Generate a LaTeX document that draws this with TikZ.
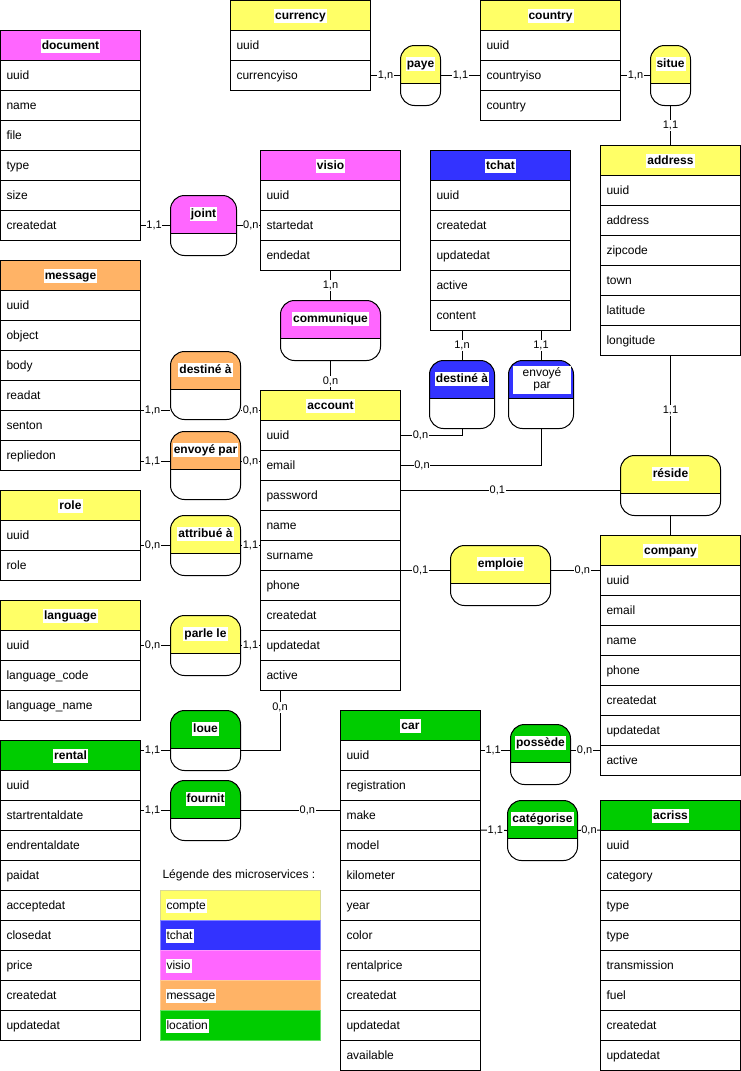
\documentclass[tikz,border=0pt]{standalone}
\usepackage{fontspec}
\setmainfont{Liberation Sans}
\definecolor{cyel}{HTML}{FFFF66}
\definecolor{cblue}{HTML}{3333FF}
\definecolor{cmag}{HTML}{FF66FF}
\definecolor{corange}{HTML}{FFB366}
\definecolor{cgreen}{HTML}{00CC00}
\newcommand\erfont{\fontsize{12pt}{14.4pt}\selectfont}
\newcommand\ercardfont{\fontsize{11pt}{13pt}\selectfont}
\tikzset{
  hdr/.style={draw, minimum width=140pt, minimum height=30pt, inner sep=0pt},
  hdrtxt/.style={fill=white, inner sep=1pt, font=\erfont\bfseries, text height=9.5pt, text depth=2.5pt},
  rowbox/.style={draw, fill=white, text width=128pt, align=left, inner xsep=6pt, inner ysep=0pt,
    minimum height=30pt, font=\erfont, text height=9.5pt, text depth=2.5pt},
  relbox/.style={draw, fill=white, rounded corners=14pt, inner sep=0pt},
  reltxt/.style={fill=white, inner sep=1pt, font=\erfont\bfseries, text height=9.5pt, text depth=2.5pt},
  card/.style={fill=white, inner sep=0.6pt, font=\ercardfont, text height=8pt, text depth=2pt},
  legbox/.style={minimum width=160pt, minimum height=30pt, inner sep=0pt},
  legtxt/.style={fill=white, inner sep=1pt, font=\erfont, text height=9.5pt, text depth=2.5pt},
}
\newcommand\ertab[6]{%
  \node[hdr, fill=#4, anchor=north west] (#1) at (#2,#3) {};
  \node[hdrtxt] (#1-t) at (#1.center) {#5};
  \foreach \rr [count=\ii] in {#6} {
    \node[rowbox, anchor=north west] (#1-\ii) at (#2,{#3+30*\ii}) {\rr};
  }%
}
\newcommand\erbox[6]{%
  \node[relbox, minimum width=#4pt, minimum height=#5pt, anchor=north west,
    path picture={\fill[#6, sharp corners] (path picture bounding box.north west) rectangle ([yshift=-38pt]path picture bounding box.north east);}]
    (#1) at (#2,#3) {};%
  \draw[sharp corners] ([yshift=-38pt]#1.north west) -- ([yshift=-38pt]#1.north east);%
}
\newcommand\errel[7]{%
  \erbox{#1}{#2}{#3}{#4}{#5}{#6}%
  \node[reltxt] (#1-t) at ([yshift=-19pt]#1.north) {#7};%
}
\begin{document}
\begin{tikzpicture}[x=1pt, y=-1pt, line width=1pt, font=\erfont]
\useasboundingbox (0,0) rectangle (741,1071);
\fill[white] (0,0) rectangle (741,1071);

% ---- tables
\ertab{document}{0}{30}{cmag}{document}{uuid,name,file,type,size,createdat}
\ertab{currency}{230}{0}{cyel}{currency}{uuid,currencyiso}
\ertab{country}{480}{0}{cyel}{country}{uuid,countryiso,country}
\ertab{visio}{260}{150}{cmag}{visio}{uuid,startedat,endedat}
\ertab{tchat}{430}{150}{cblue}{tchat}{uuid,createdat,updatedat,active,content}
\ertab{address}{600}{145}{cyel}{address}{uuid,address,zipcode,town,latitude,longitude}
\ertab{message}{0}{260}{corange}{message}{uuid,object,body,readat,senton,repliedon}
\ertab{account}{260}{390}{cyel}{account}{uuid,email,password,name,surname,phone,createdat,updatedat,active}
\ertab{role}{0}{490}{cyel}{role}{uuid,role}
\ertab{language}{0}{600}{cyel}{language}{uuid,language\_code,language\_name}
\ertab{company}{600}{535}{cyel}{company}{uuid,email,name,phone,createdat,updatedat,active}
\ertab{rental}{0}{740}{cgreen}{rental}{uuid,startrentaldate,endrentaldate,paidat,acceptedat,closedat,price,createdat,updatedat}
\ertab{car}{340}{710}{cgreen}{car}{uuid,registration,make,model,kilometer,year,color,rentalprice,createdat,updatedat,available}
\ertab{acriss}{600}{800}{cgreen}{acriss}{uuid,category,type,type,transmission,fuel,createdat,updatedat}

% ---- relationships
\errel{paye}{400}{45}{40}{60}{cyel}{paye}
\errel{situe}{650}{45}{40}{60}{cyel}{situe}
\errel{joint}{170}{195}{66}{60}{cmag}{joint}
\errel{communique}{280}{300}{100}{60}{cmag}{communique}
\errel{orangedest}{170}{351}{70}{68}{corange}{destiné à}
\errel{orangeenv}{170}{431}{70}{68}{corange}{envoyé par}
\errel{bluedest}{429}{360}{65}{68}{cblue}{destiné à}
\erbox{blueenv}{508}{360}{65}{68}{cblue}
\node[fill=white, inner sep=0pt, minimum width=58pt, minimum height=28pt, align=center,
  font=\erfont] (blueenv-t) at (542,379.5) {envoyé\\[-2.4pt]par};
\errel{reside}{620}{455}{100}{60}{cyel}{réside}
\errel{emploie}{450}{545}{100}{60}{cyel}{emploie}
\errel{attr}{170}{515}{70}{60}{cyel}{attribué à}
\errel{parle}{170}{615}{70}{60}{cyel}{parle le}
\errel{loue}{170}{710}{70}{60}{cgreen}{loue}
\errel{fournit}{170}{780}{70}{60}{cgreen}{fournit}
\errel{possede}{510}{724}{60}{60}{cgreen}{possède}
\errel{categ}{507}{800}{70}{60}{cgreen}{catégorise}

% ---- helper coordinates
\coordinate (m6) at ([yshift=-6pt]message-6.east);
\coordinate (pw) at ([yshift=5pt]account-3.east);
\coordinate (ac) at ([xshift=20pt]account-9.south west);
\coordinate (lo) at ([yshift=-10pt]loue.east);
\coordinate (po) at ([yshift=4pt]possede.west);

% ---- connectors
\draw (currency-2.east) -- node[card]{1,n} (paye.west);
\draw (paye.east) -- node[card]{1,1} (country-2.west);
\draw (country-2.east) -- node[card]{1,n} (situe.west);
\draw (situe.south) -- node[card]{1,1} (address.north);
\draw (document-6.east) -- node[card,pos=0.45]{1,1} (joint.west);
\draw (joint.east) -- node[card,pos=0.6]{0,n} (visio-2.west);
\draw (visio-3.south) -- node[card]{1,n} (communique.north);
\draw (communique.south) -- node[card,pos=0.7]{0,n} (account.north);
\draw (message-5.north east) -- node[card,pos=0.4]{1,n} (message-5.north east -| orangedest.west);
\draw (orangedest.east |- message-5.north east) -- node[card]{0,n} (account.west |- message-5.north east);
\draw (m6) -- node[card,pos=0.4]{1,1} (orangeenv.west |- m6);
\draw (orangeenv.east |- m6) -- node[card]{0,n} (account.west |- m6);
\draw (role-1.east |- attr.west) -- node[card,pos=0.4]{0,n} (attr.west);
\draw (attr.east) -- node[card]{1,1} (account.west |- attr.east);
\draw (language-1.east |- parle.west) -- node[card,pos=0.4]{0,n} (parle.west);
\draw (parle.east) -- node[card]{1,1} (account.west |- parle.east);
\draw (account-1.east) -| node[card,pos=0.16]{0,n} (bluedest.south);
\draw (bluedest.north |- tchat-5.south) -- node[card]{1,n} (bluedest.north);
\draw (blueenv.north |- tchat-5.south) -- node[card]{1,1} (blueenv.north);
\draw (account-2.east) -| node[card,pos=0.075]{0,n} (blueenv.south);
\draw (pw) -- node[card,pos=0.44]{0,1} (reside.west |- pw);
\draw (address-6.south) -- node[card,pos=0.55]{1,1} (reside.north);
\draw (reside.south) -- (company.north);
\draw (account-6.north east) -- node[card,pos=0.4]{0,1} (emploie.west |- account-6.north east);
\draw (emploie.east |- account-6.north east) -- node[card,pos=0.64]{0,n} (company.west |- account-6.north east);
\draw (ac) |- node[card,pos=0.14]{0,n} (lo);
\draw (rental.east |- lo) -- node[card,pos=0.4]{1,1} (loue.west |- lo);
\draw (rental-2.east |- fournit.west) -- node[card,pos=0.4]{1,1} (fournit.west);
\draw (fournit.east) -- node[card,pos=0.67]{0,n} (car-3.west |- fournit.east);
\draw (car.east |- po) -- node[card,pos=0.42]{1,1} (po);
\draw (possede.east |- po) -- node[card,pos=0.47]{0,n} (company.west |- po);
\draw (car-4.north east) -- node[card,pos=0.55]{1,1} (categ.west);
\draw (categ.east) -- node[card]{0,n} (acriss-1.north west);

% ---- legend
\node[anchor=west, inner sep=1pt, font=\erfont] (legt) at (161,875) {Légende des microservices :};
\node[legbox, fill=cyel, draw=cyel!75!black!60!white, anchor=north west] (leg1) at (160,890) {};
\node[legbox, fill=cblue, draw=cblue!60!white, anchor=north west] (leg2) at (160,920) {};
\node[legbox, fill=cmag, draw=cmag!70!white, anchor=north west] (leg3) at (160,950) {};
\node[legbox, fill=corange, draw=corange!70!white, anchor=north west] (leg4) at (160,980) {};
\node[legbox, fill=cgreen, draw=cgreen!60!white, anchor=north west] (leg5) at (160,1010) {};
\node[legtxt, anchor=west] (leg1-t) at ([xshift=5pt]leg1.west) {compte};
\node[legtxt, anchor=west] (leg2-t) at ([xshift=5pt]leg2.west) {tchat};
\node[legtxt, anchor=west] (leg3-t) at ([xshift=5pt]leg3.west) {visio};
\node[legtxt, anchor=west] (leg4-t) at ([xshift=5pt]leg4.west) {message};
\node[legtxt, anchor=west] (leg5-t) at ([xshift=5pt]leg5.west) {location};
\end{tikzpicture}
\end{document}
